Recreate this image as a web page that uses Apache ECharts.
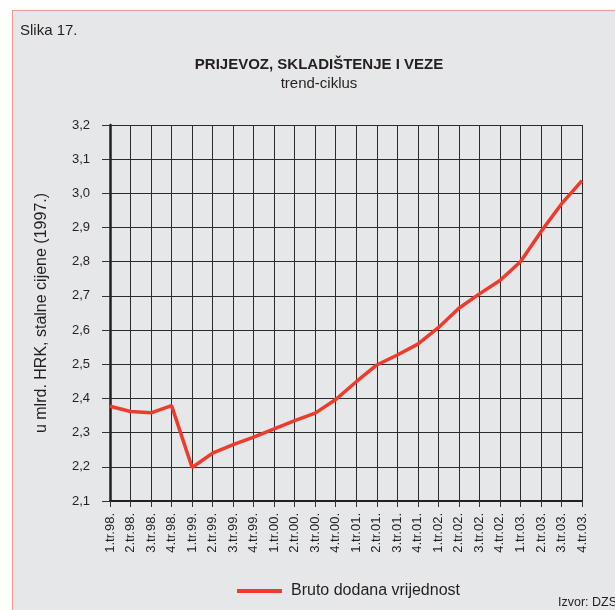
<!DOCTYPE html>
<html>
<head>
<meta charset="utf-8">
<title>Slika 17.</title>
<script src="https://cdn.jsdelivr.net/npm/echarts@6/dist/echarts.min.js"></script>
<style>
  html, body { margin: 0; padding: 0; background: #fff; }
  #frame { position: absolute; left: 12px; top: 10px; width: 700px; height: 700px;
           background: #e6e7e8; border: 1.5px solid #f39a92; box-sizing: border-box; }
  #chart1 { position: absolute; left: 0; top: 0; width: 615px; height: 610px; }
</style>
</head>
<body>
<div id="frame"></div>
<div id="chart1"></div>
<script>
const quarters = ['1.tr.98.', '2.tr.98.', '3.tr.98.', '4.tr.98.', '1.tr.99.', '2.tr.99.', '3.tr.99.', '4.tr.99.',
    '1.tr.00.', '2.tr.00.', '3.tr.00.', '4.tr.00.', '1.tr.01.', '2.tr.01.', '3.tr.01.', '4.tr.01.',
    '1.tr.02.', '2.tr.02.', '3.tr.02.', '4.tr.02.', '1.tr.03.', '2.tr.03.', '3.tr.03.', '4.tr.03.'];
// bruto dodana vrijednost, mlrd. HRK
const bdv = [2.377, 2.362, 2.358, 2.379, 2.198, 2.240, 2.265, 2.287, 2.311, 2.335, 2.357, 2.397,
    2.449, 2.498, 2.527, 2.559, 2.607, 2.664, 2.706, 2.745, 2.800, 2.888, 2.969, 3.037];
const yMin = 2.1;
const yMax = 3.2;

const txt = '#231f20';
const font = 'Arial, "Liberation Sans", sans-serif';

const getOption = () => {
    return {
        backgroundColor: 'transparent',
        textStyle: { fontFamily: font, color: txt },
        animation: false,
        graphic: [
            { type: 'text', left: 20, top: 23, style: { text: 'Slika 17.', font: '15px ' + font, fill: txt } },
            { type: 'text', x: 319, y: 65, style: { text: 'PRIJEVOZ, SKLADIŠTENJE I VEZE', font: 'bold 15px ' + font,
                fill: txt, textAlign: 'center', textVerticalAlign: 'middle' } },
            { type: 'text', x: 319, y: 84, style: { text: 'trend-ciklus', font: '15px ' + font,
                fill: txt, textAlign: 'center', textVerticalAlign: 'middle' } },
            { type: 'text', x: 558, y: 603, style: { text: 'Izvor: DZS', font: '12.5px ' + font,
                fill: txt, textVerticalAlign: 'middle' } }
        ],
        legend: {
            left: 232, top: 578,
            icon: 'rect', itemWidth: 45, itemHeight: 4,
            textStyle: { fontSize: 16, color: txt, padding: [0, 0, 0, 4] },
            data: ['Bruto dodana vrijednost']
        },
        grid: { left: 110, top: 125, right: 33, bottom: 109, containLabel: false },
        xAxis: {
            type: 'category',
            data: quarters,
            boundaryGap: false,
            axisLine: { lineStyle: { color: txt, width: 2 } },
            axisTick: { show: true, length: 6, interval: 0, lineStyle: { color: '#333' } },
            axisLabel: { interval: 0, rotate: 90, margin: 12, fontSize: 13, color: txt },
            splitLine: { show: true, interval: 0, lineStyle: { color: '#2b2b2b', width: 1 } }
        },
        yAxis: {
            type: 'value',
            min: yMin, max: yMax, interval: 0.1,
            name: 'u mlrd. HRK, stalne cijene (1997.)',
            nameLocation: 'middle', nameGap: 60,
            nameTextStyle: { fontSize: 16, color: txt },
            axisLine: { show: true, lineStyle: { color: txt, width: 2.5 } },
            axisTick: { show: true, length: 8, lineStyle: { color: '#333' } },
            axisLabel: { margin: 20, fontSize: 13, color: txt,
                formatter: v => v.toFixed(1).replace('.', ',') },
            splitLine: { show: true, lineStyle: { color: '#2b2b2b', width: 1 } }
        },
        series: [
            {
                name: 'Bruto dodana vrijednost',
                type: 'line',
                data: bdv,
                symbol: 'none',
                lineStyle: { color: '#ef3b2d', width: 3.5 },
                itemStyle: { color: '#ef3b2d' },
                z: 5
            }
        ]
    };
};

const initCharts = () => {
    const chart1 = echarts.init(document.getElementById('chart1'), null, { renderer: 'canvas' });
    chart1.setOption(getOption());
};

window.addEventListener('load', () => {
    initCharts();
});
</script>
</body>
</html>
